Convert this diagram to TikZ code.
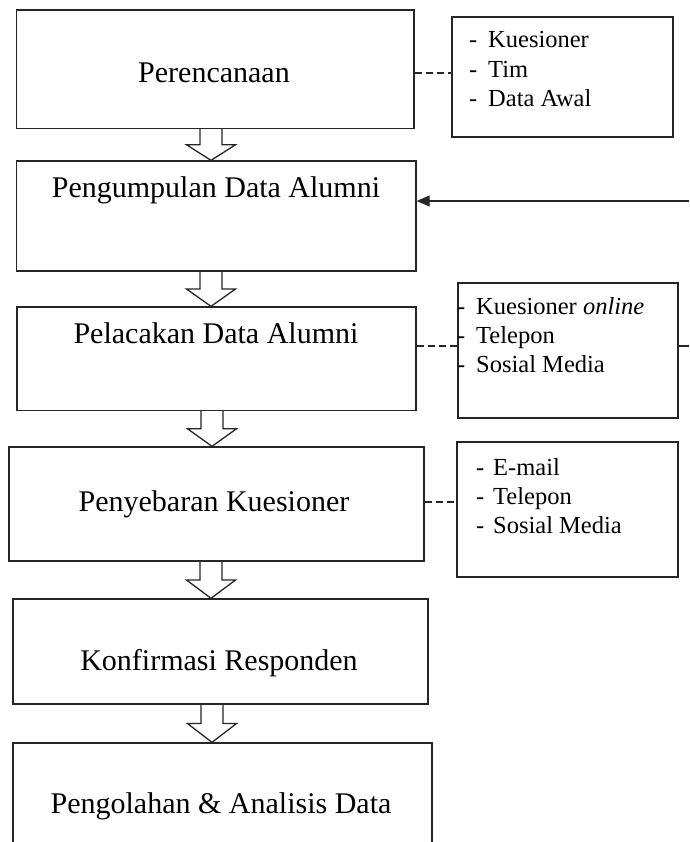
\documentclass[tikz,border=0pt]{standalone}
\usepackage{fontspec}
\setmainfont{Liberation Serif}
\usetikzlibrary{arrows.meta,calc}
\tikzset{
  boxline/.style={draw=black!85, line width=1.3pt},
  mainbox/.style={boxline, rectangle, inner sep=0pt},
  sidebox/.style={boxline, rectangle, inner sep=0pt},
  maintext/.style={anchor=base, inner sep=0pt, font=\fontsize{30}{36}\selectfont},
  sidetext/.style={anchor=base west, inner sep=0pt, font=\fontsize{24.5}{29}\selectfont},
  dashlink/.style={draw=black!85, line width=1.1pt, dash pattern=on 7pt off 4pt},
  solidlink/.style={draw=black!85, line width=1.1pt},
  blockarr/.style={draw=black!85, line width=1.3pt, line join=miter}
}
\newcommand\blkarr[3]{%
  \draw[blockarr] let \p1=(#2.south), \p2=(#3.north) in
    ({#1pt-11pt},\y1) -- ({#1pt-11pt},{(\y1+\y2)/2}) -- ({#1pt-24.5pt},{(\y1+\y2)/2})
    -- ({#1pt},\y2) -- ({#1pt+24.5pt},{(\y1+\y2)/2}) -- ({#1pt+11pt},{(\y1+\y2)/2})
    -- ({#1pt+11pt},\y1);}
\begin{document}
\begin{tikzpicture}[x=1pt,y=-1pt]
\useasboundingbox (0,0) rectangle (689,842);
\clip (0,0) rectangle (689,842);
\fill[white] (0,0) rectangle (689,842);
% main boxes
\node[mainbox, minimum width=397.5pt, minimum height=118.5pt] (b1) at (215.25,69.25) {};
\node[mainbox, minimum width=399.5pt, minimum height=110pt] (b2) at (216.25,216) {};
\node[mainbox, minimum width=399pt, minimum height=103.5pt] (b3) at (216.5,358.75) {};
\node[mainbox, minimum width=415pt, minimum height=114pt] (b4) at (216.5,504) {};
\node[mainbox, minimum width=415pt, minimum height=105pt] (b5) at (220.5,651.5) {};
\node[mainbox, minimum width=419pt, minimum height=110pt] (b6) at (222.5,798) {};
% main texts
\node[maintext] (t1) at (214,83) {Perencanaan};
\node[maintext] (t2) at (216,198) {Pengumpulan Data Alumni};
\node[maintext] (t3) at (216,343) {Pelacakan Data Alumni};
\node[maintext] (t4) at (214,511) {Penyebaran Kuesioner};
\node[maintext] (t5) at (219,670) {Konfirmasi Responden};
\node[maintext] (t6) at (221,813) {Pengolahan \& Analisis Data};
% side boxes
\node[sidebox, minimum width=221pt, minimum height=120pt] (s1) at (562.5,77) {};
\node[sidebox, minimum width=220pt, minimum height=135pt] (s2) at (568,350.5) {};
\node[sidebox, minimum width=221pt, minimum height=135pt] (s3) at (567.5,509.5) {};
% side texts
\node[sidetext] (s1a) at (469,48) {\makebox[19pt][l]{-}Kuesioner};
\node[sidetext] (s1b) at (469,77.5) {\makebox[19pt][l]{-}Tim};
\node[sidetext] (s1c) at (469,106.5) {\makebox[19pt][l]{-}Data Awal};
\node[sidetext] (s2a) at (457,314) {\makebox[19pt][l]{-}Kuesioner \textit{online}};
\node[sidetext] (s2b) at (457,343) {\makebox[19pt][l]{-}Telepon};
\node[sidetext] (s2c) at (457,372) {\makebox[19pt][l]{-}Sosial Media};
\node[sidetext] (s3a) at (476,475) {\makebox[17pt][l]{-}E-mail};
\node[sidetext] (s3b) at (476,504) {\makebox[17pt][l]{-}Telepon};
\node[sidetext] (s3c) at (476,533) {\makebox[17pt][l]{-}Sosial Media};
% block arrows
\blkarr{211}{b1}{b2}
\blkarr{211}{b2}{b3}
\blkarr{212}{b3}{b4}
\blkarr{211}{b4}{b5}
\blkarr{212}{b5}{b6}
% dashed links
\draw[dashlink] (b1.east |- 0,73) -- (s1.west |- 0,73);
\draw[dashlink] (b3.east |- 0,346) -- (s2.west |- 0,346);
\draw[dashlink] (b4.east |- 0,502) -- (s3.west |- 0,502);
% feedback lines
\coordinate (fbin) at (689,201);
\coordinate (fbout) at (689,346);
\draw[solidlink, -{Triangle[length=13pt,width=11pt]}] (fbin) -- (b2.east |- fbin);
\draw[solidlink] (s2.east |- fbout) -- (fbout);
\end{tikzpicture}
\end{document}
